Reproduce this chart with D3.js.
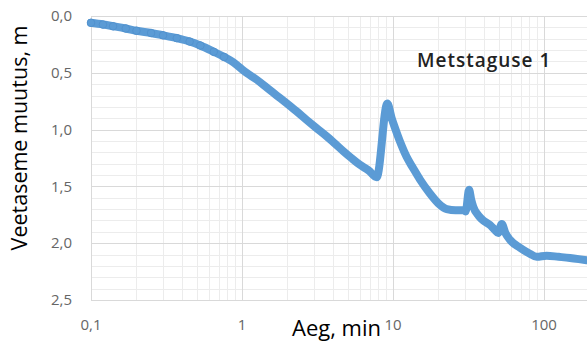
<!DOCTYPE html>
<html>
<head>
<meta charset="utf-8">
<title>Metstaguse 1</title>
<style>
  body { margin: 0; background: #fff; }
  svg { display: block; font-family: "Open Sans", sans-serif; }
  .grid-major line { stroke: #d9d9d9; stroke-width: 1; }
  .grid-minor line { stroke: #ececec; stroke-width: 1; }
  .tick-label { fill: #666; font-size: 15px; }
</style>
</head>
<body>
<div id="viz"></div>
<script src="https://cdn.jsdelivr.net/npm/d3@7/dist/d3.min.js"></script>
<script>
// time (min) and water level change (m)
var aeg = [0.1, 0.12, 0.14, 0.17, 0.2, 0.25, 0.3, 0.37, 0.45, 0.53, 0.65, 0.76, 0.88, 1.0, 1.07,
           1.25, 1.46, 1.7, 1.98, 2.3, 2.68, 3.1, 3.64, 4.1, 4.69, 5.3, 6.04, 6.9, 7.8,
           9.17, 9.8, 10.6, 11.4, 12.3, 13.6, 15.1, 17.5, 20, 22.7, 26, 29.5, 30.3,
           31.9, 33, 34, 37, 39.6, 43.9, 47, 49.8, 52.5, 55.5, 59.5, 69.3, 80, 89.5,
           104, 125, 148.6, 170, 192];
var muutus = [0.06, 0.075, 0.09, 0.11, 0.13, 0.15, 0.17, 0.195, 0.225, 0.26, 0.315, 0.36, 0.41, 0.47, 0.5,
              0.56, 0.63, 0.7, 0.77, 0.84, 0.915, 0.985, 1.06, 1.12, 1.19, 1.25, 1.31, 1.36, 1.42,
              0.77, 0.9, 1.03, 1.14, 1.24, 1.34, 1.44, 1.56, 1.65, 1.7, 1.71, 1.71, 1.72,
              1.53, 1.62, 1.68, 1.76, 1.8, 1.84, 1.88, 1.91, 1.83, 1.91, 1.97, 2.04, 2.09, 2.12,
              2.11, 2.12, 2.13, 2.14, 2.15];

var xTicks = [0.1, 1, 10, 100];
var xTickLabels = ["0,1", "1", "10", "100"];
var yTicks = [0, 0.5, 1, 1.5, 2, 2.5];

var W = 587, H = 343;
var margin = {left: 91, top: 16, right: 0, bottom: 43};
var xMax = 200;

var data = aeg.map(function(t, i) { return {x: t, y: muutus[i]}; });

var x = d3.scaleLog().domain([0.1, xMax]).range([margin.left, margin.left + 151 * Math.log10(xMax / 0.1)]);
var y = d3.scaleLinear().domain([0, 2.5]).range([margin.top, H - margin.bottom]);

var svg = d3.select("#viz").append("svg").attr("width", W).attr("height", H);

// minor grid
var xMinor = [];
[0.1, 1, 10, 100].forEach(function(d) {
  for (var k = 2; k <= 9; k++) { if (d * k <= xMax) xMinor.push(d * k); }
});
var yMinor = d3.range(0, 2.51, 0.1);

svg.append("g").attr("class", "grid-minor")
  .selectAll("line").data(xMinor).enter().append("line")
    .attr("x1", function(d) { return Math.round(x(d)) + 0.5; })
    .attr("x2", function(d) { return Math.round(x(d)) + 0.5; })
    .attr("y1", y(0)).attr("y2", y(2.5));
svg.append("g").attr("class", "grid-minor")
  .selectAll("line").data(yMinor).enter().append("line")
    .attr("x1", x(0.1)).attr("x2", W)
    .attr("y1", function(d) { return Math.round(y(d)) + 0.5; })
    .attr("y2", function(d) { return Math.round(y(d)) + 0.5; });

// major grid
svg.append("g").attr("class", "grid-major")
  .selectAll("line").data(xTicks).enter().append("line")
    .attr("x1", function(d) { return Math.round(x(d)) + 0.5; })
    .attr("x2", function(d) { return Math.round(x(d)) + 0.5; })
    .attr("y1", y(0)).attr("y2", y(2.5));
svg.append("g").attr("class", "grid-major")
  .selectAll("line").data(yTicks).enter().append("line")
    .attr("x1", x(0.1)).attr("x2", W)
    .attr("y1", function(d) { return Math.round(y(d)) + 0.5; })
    .attr("y2", function(d) { return Math.round(y(d)) + 0.5; });

// tick labels
svg.append("g").selectAll("text").data(yTicks).enter().append("text")
  .attr("class", "tick-label")
  .attr("x", 72).attr("y", function(d) { return y(d); })
  .attr("dy", "0.35em").attr("text-anchor", "end")
  .text(function(d) { return d3.format(".1f")(d).replace(".", ","); });

svg.append("g").selectAll("text").data(xTicks).enter().append("text")
  .attr("class", "tick-label")
  .attr("x", function(d) { return x(d); }).attr("y", 325)
  .attr("dy", "0.35em").attr("text-anchor", "middle")
  .text(function(d, i) { return xTickLabels[i]; });

// series: dense markers drawn as a thick line plus dots
var line = d3.line()
  .x(function(d) { return x(d.x); })
  .y(function(d) { return y(d.y); })
  .curve(d3.curveMonotoneX);

svg.append("path").datum(data)
  .attr("d", line)
  .attr("fill", "none")
  .attr("stroke", "#5b9bd5")
  .attr("stroke-width", 8)
  .attr("stroke-linejoin", "round")
  .attr("stroke-linecap", "round");

svg.append("g").selectAll("circle").data(data.slice(0, 12)).enter().append("circle")
  .attr("cx", function(d) { return x(d.x); })
  .attr("cy", function(d) { return y(d.y); })
  .attr("r", 3.8)
  .attr("fill", "#5b9bd5")
  .attr("stroke", "#4f8fcb")
  .attr("stroke-width", 0.8);

// titles
svg.append("text")
  .attr("transform", "translate(19,138) rotate(-90)")
  .attr("dy", "0.35em").attr("text-anchor", "middle")
  .style("font-size", "21.5px").style("fill", "#000")
  .text("Veetaseme muutus, m");

svg.append("text")
  .attr("x", 381).attr("y", 328)
  .attr("dy", "0.35em").attr("text-anchor", "end")
  .style("font-size", "22px").style("fill", "#000")
  .text("Aeg, min");

svg.append("text")
  .attr("x", 417).attr("y", 67)
  .style("font-size", "19px").style("font-weight", "600").style("letter-spacing", "1px")
  .style("fill", "#222")
  .text("Metstaguse 1");
</script>
</body>
</html>
